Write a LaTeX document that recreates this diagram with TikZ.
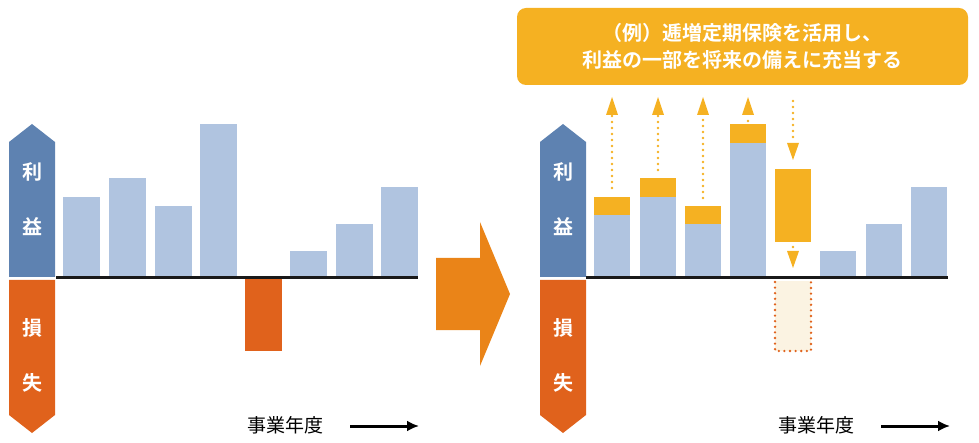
\documentclass[tikz,border=0pt]{standalone}
\usetikzlibrary{arrows.meta}
\usepackage{fontspec}
\newfontfamily\cjk{Noto Sans CJK JP}
\newfontfamily\cjkb{Noto Sans CJK JP Bold}
\begin{document}
\begin{tikzpicture}[x=1pt,y=-1pt,
  bar/.style={fill=barblue},
  gain/.style={fill=gainor},
  dotarrow/.style={draw=gainor,line width=2.6pt,dash pattern=on 0pt off 6pt,line cap=round},
  side/.style={text=white,font=\cjkb\fontsize{20}{20}\selectfont}]
\definecolor{barblue}{HTML}{B0C4E0}
\definecolor{gainor}{HTML}{F5B122}
\definecolor{lossor}{HTML}{E0621C}
\definecolor{sideblue}{HTML}{5E82B1}
\definecolor{bigarrow}{HTML}{EA8418}
\useasboundingbox (0,0) rectangle (979,443);
% ---------- left panel
\fill[sideblue] (9,277) -- (9,142) -- (32,124) -- (55,142) -- (55,277) -- cycle;
\fill[lossor] (9,280) -- (9,415) -- (32,433) -- (55,415) -- (55,280) -- cycle;
\node[side] (lr) at (32,172) {利};
\node[side] (le) at (32,227) {益};
\node[side] (ls) at (32,328) {損};
\node[side] (lk) at (32,383) {失};
\fill[bar] (63,197) rectangle (100,277);
\fill[bar] (109,178) rectangle (146,277);
\fill[bar] (155,206) rectangle (192,277);
\fill[bar] (200,124) rectangle (237,277);
\fill[bar] (290,251) rectangle (327,277);
\fill[bar] (336,224) rectangle (373,277);
\fill[bar] (381,187) rectangle (418,277);
\fill[lossor] (245,279) rectangle (282,351);
\draw[line width=2.6pt,black!90] (56,277.5) -- (418,277.5);
\node[font=\cjk\fontsize{19}{19}\selectfont,anchor=west] (lt) at (244,425) {事業年度};
\coordinate (la1) at (350,426); \coordinate (la2) at (419,426);
\draw[line width=3pt,-{Latex[length=12pt,width=11pt]}] (la1) -- (la2);
% ---------- big arrow
\fill[bigarrow] (436,258) -- (480,258) -- (480,222) -- (510,294) -- (480,366) -- (480,330) -- (436,330) -- cycle;
% ---------- right panel
\fill[sideblue] (540,277) -- (540,142) -- (563,124) -- (586,142) -- (586,277) -- cycle;
\fill[lossor] (540,280) -- (540,415) -- (563,433) -- (586,415) -- (586,280) -- cycle;
\node[side] (rr) at (563,172) {利};
\node[side] (re) at (563,227) {益};
\node[side] (rs) at (563,328) {損};
\node[side] (rk) at (563,383) {失};
\fill[bar] (594,215) rectangle (630,277); \fill[gain] (594,197) rectangle (630,215);
\fill[bar] (640,197) rectangle (676,277); \fill[gain] (640,178) rectangle (676,197);
\fill[bar] (685,224) rectangle (721,277); \fill[gain] (685,206) rectangle (721,224);
\fill[bar] (730,143) rectangle (766,277); \fill[gain] (730,124) rectangle (766,143);
\fill[gain] (775,169) rectangle (811,242);
\fill[bar] (820,251) rectangle (856,277);
\fill[bar] (866,224) rectangle (902,277);
\fill[bar] (911,187) rectangle (947,277);
\fill[fill={rgb,255:red,251;green,243;blue,226}] (775,281) rectangle (811,351);
\draw[draw=lossor,line width=2.6pt,dash pattern=on 0pt off 5.6pt,line cap=round] (775,282) -- (775,351) -- (811,351) -- (811,282);
\draw[line width=2.6pt,black!90] (586,277.5) -- (948,277.5);
% dotted arrows
\foreach \x/\y in {612/188,658/170,703/198,748/121}{
  \draw[dotarrow] (\x,\y) -- (\x,116);
  \fill[gainor] (\x-6,115) -- (\x,97) -- (\x+6,115) -- cycle;
}
\draw[dotarrow] (793,101) -- (793,140);
\fill[gainor] (787,143) -- (793,160) -- (799,143) -- cycle;
\draw[dotarrow] (793,247) -- (793,249);
\fill[gainor] (787,251) -- (793,268) -- (799,251) -- cycle;
% callout
\node[fill=gainor,rounded corners=9pt,minimum width=451pt,minimum height=77pt,text=white,
  font=\cjkb\fontsize{20}{27}\selectfont,align=center] (call) at (742.5,46.5)
  {（例）逓増定期保険を活用し、\\利益の一部を将来の備えに充当する};
\node[font=\cjk\fontsize{19}{19}\selectfont,anchor=west] (rt) at (775,425) {事業年度};
\coordinate (ra1) at (881,426); \coordinate (ra2) at (950,426);
\draw[line width=3pt,-{Latex[length=12pt,width=11pt]}] (ra1) -- (ra2);
\end{tikzpicture}
\end{document}
